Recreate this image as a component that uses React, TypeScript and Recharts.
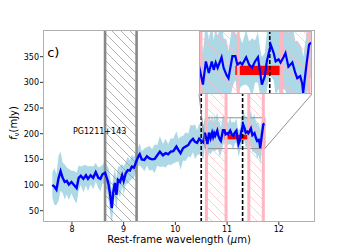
import {
  ComposedChart,
  Area,
  Line,
  XAxis,
  YAxis,
  ReferenceArea,
  ReferenceLine,
  ReferenceDot,
} from 'recharts';

// spectrum (rest-frame wavelength in micron, flux in mJy, 1-sigma error)
const WAVE = [
  7.62, 7.66, 7.7, 7.74, 7.78, 7.82, 7.86, 7.9, 7.94, 7.99, 8.04, 8.09, 8.13, 8.17, 8.22, 8.27,
  8.31, 8.36, 8.41, 8.46, 8.51, 8.55, 8.59, 8.64, 8.68, 8.71, 8.74, 8.77, 8.8, 8.83, 8.86, 8.89,
  8.93, 8.97, 9.0, 9.04, 9.08, 9.12, 9.16, 9.2, 9.24, 9.28, 9.31, 9.35, 9.4, 9.45, 9.5, 9.55,
  9.6, 9.65, 9.7, 9.76, 9.81, 9.86, 9.91, 9.96, 10.02, 10.06, 10.1, 10.15, 10.2, 10.25, 10.29,
  10.34, 10.38, 10.42, 10.46, 10.5, 10.54, 10.57, 10.6, 10.62, 10.65, 10.68, 10.71, 10.73, 10.75,
  10.77, 10.81, 10.83, 10.86, 10.88, 10.92, 10.95, 10.97, 11.0, 11.02, 11.06, 11.09, 11.12, 11.15,
  11.18, 11.2, 11.22, 11.25, 11.27, 11.29, 11.31, 11.34, 11.36, 11.39, 11.41, 11.44, 11.46, 11.49,
  11.53, 11.56, 11.58, 11.61, 11.63, 11.64, 11.67, 11.7, 11.72,
];
const FLUX = [
  100, 97, 91, 113, 127, 114, 106, 108, 101, 106, 100, 94, 114, 118, 112, 119,
  112, 119, 114, 125, 114, 112, 121, 124, 112, 100, 80, 55, 87, 104, 81, 110,
  106, 119, 108, 123, 129, 128, 136, 134, 145, 155, 160, 150, 149, 156, 152, 150,
  151, 158, 165, 158, 162, 160, 165, 166, 175, 168, 162, 172, 175, 178, 185,
  190, 184, 182, 190, 186, 183, 202, 189, 180, 202, 191, 202, 194, 201,
  196, 206, 196, 189, 186, 207, 207, 199, 201, 199, 206, 199, 196, 202,
  206, 193, 180, 188, 202, 210, 218, 210, 202, 204, 201, 206, 210, 197,
  201, 191, 186, 188, 181, 172, 196, 218, 220,
];
const ERR = [
  24, 36, 30, 44, 38, 30, 34, 26, 30, 22, 28, 30, 24, 18, 26, 20,
  24, 18, 22, 18, 20, 24, 18, 22, 26, 32, 36, 34, 30, 28, 32, 26,
  30, 22, 28, 22, 26, 20, 24, 20, 22, 18, 22, 16, 22, 18, 24, 20,
  28, 20, 30, 22, 28, 20, 26, 24, 30, 22, 32, 24, 28, 22, 32,
  26, 34, 24, 30, 26, 34, 28, 36, 30, 38, 32, 36, 28, 34,
  30, 36, 28, 34, 26, 30, 22, 28, 24, 20, 26, 22, 28, 20,
  24, 22, 26, 22, 28, 24, 30, 26, 32, 28, 34, 30, 36, 32,
  38, 30, 36, 30, 32, 34, 30, 36, 32,
];

const X_TICKS = [8, 9, 10, 11, 12];
const Y_TICKS = [50, 100, 150, 200, 250, 300, 350];
const X_DOMAIN = [7.44, 12.7];
const Y_DOMAIN = [28, 402];

const MASK = [8.64, 9.25];
const PINK_BANDS = [
  [10.6, 10.98],
  [11.42, 11.7],
];
const DASHED = [10.5, 11.3];
const MODEL_X = [10.95, 11.4];
const MODEL_Y = [189, 198];

const INSET_X = [10.58, 11.73];
const INSET_Y = [171, 231];
const INSET_X_TICKS = [10.6, 11.0, 11.4];
const INSET_Y_TICKS = [180, 190, 200, 210, 220, 230];

const rows = WAVE.map((x, i) => ({
  x,
  flux: FLUX[i],
  band: [FLUX[i] - ERR[i], FLUX[i] + ERR[i]],
}));

// plot box in pixels
const PLOT = { left: 43, top: 30, width: 272, height: 192 };
const INSET = { left: 199, top: 31, width: 113, height: 63 };

const pxToX = (px: number) =>
  X_DOMAIN[0] + ((px - PLOT.left) / PLOT.width) * (X_DOMAIN[1] - X_DOMAIN[0]);
const pyToY = (py: number) =>
  Y_DOMAIN[1] - ((py - PLOT.top) / PLOT.height) * (Y_DOMAIN[1] - Y_DOMAIN[0]);

const SPINE = '#b0b0b0';
const PINK = '#ffb6c1';

function Hatch({ id, color, size }: { id: string; color: string; size: number }) {
  const s = size;
  return (
    <pattern id={id} patternUnits="userSpaceOnUse" width={s} height={s}>
      <path
        d={`M0,0 L${s},${s} M-1,${s - 1} L1,${s + 1} M${s - 1},-1 L${s + 1},1`}
        stroke={color}
        strokeWidth="0.7"
      />
    </pattern>
  );
}

function bands(prefix: string, hatchPink: string) {
  return [
    ...PINK_BANDS.map(([a, b], i) => (
      <ReferenceArea
        key={`${prefix}pa${i}`}
        x1={a}
        x2={b}
        fill={`url(#${hatchPink})`}
        fillOpacity={1}
        stroke="none"
        ifOverflow="hidden"
      />
    )),
    ...PINK_BANDS.flat().map((v, i) => (
      <ReferenceLine key={`${prefix}pl${i}`} x={v} stroke={PINK} strokeWidth={3} ifOverflow="hidden" />
    )),
  ];
}

export default function App() {
  const insetBL = { x: pxToX(INSET.left), y: pyToY(INSET.top + INSET.height) };
  const insetBR = { x: pxToX(INSET.left + INSET.width), y: pyToY(INSET.top + INSET.height) };

  return (
    <div
      style={{
        position: 'absolute',
        left: 0,
        top: 0,
        width: 350,
        height: 250,
        background: '#fff',
        fontFamily: 'DejaVu Sans',
      }}
    >
      <ComposedChart width={350} height={250} data={rows} margin={{ top: 30, right: 35, bottom: 0, left: 0 }}>
        <defs>
          <Hatch id="grayHatch" color="#909090" size={9} />
          <Hatch id="pinkHatch" color={PINK} size={9} />
        </defs>
        <XAxis
          type="number"
          dataKey="x"
          domain={X_DOMAIN}
          ticks={X_TICKS}
          interval={0}
          allowDataOverflow
          height={28}
          axisLine={false}
          tickSize={3}
          tickMargin={1}
          tickLine={{ stroke: '#333' }}
          tick={{ fontSize: 8, fill: '#000' }}
          label={(p: any) => (
            <text
              x={p.viewBox.x + p.viewBox.width / 2}
              y={p.viewBox.y + 21}
              textAnchor="middle"
              fontSize={10}
              fill="#000"
            >
              Rest-frame wavelength (<tspan fontStyle="italic">μ</tspan>m)
            </text>
          )}
        />
        <YAxis
          type="number"
          domain={Y_DOMAIN}
          ticks={Y_TICKS}
          interval={0}
          allowDataOverflow
          width={43}
          axisLine={false}
          tickSize={3}
          tickMargin={1}
          tickLine={{ stroke: '#333' }}
          tick={{ fontSize: 8, fill: '#000' }}
          label={(p: any) => {
            const cx = 17;
            const cy = p.viewBox.y + p.viewBox.height / 2 - 3;
            return (
              <text x={cx} y={cy} transform={`rotate(-90 ${cx} ${cy})`} textAnchor="middle" fontSize={10} fill="#000">
                <tspan fontStyle="italic">f</tspan>
                <tspan fontSize={7} dy={2}>ν</tspan>
                <tspan dy={-2}>(mJy)</tspan>
              </text>
            );
          }}
        />
        <Area
          dataKey="band"
          type="linear"
          stroke="none"
          fill="#add8e6"
          fillOpacity={1}
          isAnimationActive={false}
        />
        <ReferenceArea x1={MASK[0]} x2={MASK[1]} fill="url(#grayHatch)" fillOpacity={1} stroke="none" />
        <ReferenceLine x={MASK[0]} stroke="#888" strokeWidth={2.6} />
        <ReferenceLine x={MASK[1]} stroke="#888" strokeWidth={2.6} />
        {bands('m', 'pinkHatch')}
        {DASHED.map((v) => (
          <ReferenceLine key={v} x={v} stroke="#000" strokeWidth={1.6} strokeDasharray="4 2" />
        ))}
        <ReferenceArea x1={MODEL_X[0]} x2={MODEL_X[1]} y1={MODEL_Y[0]} y2={MODEL_Y[1]} fill="#ff0000" fillOpacity={1} stroke="none" />
        <Line
          dataKey="flux"
          type="linear"
          stroke="#0000ff"
          strokeWidth={2.4}
          dot={false}
          isAnimationActive={false}
        />
        <ReferenceArea
          x1={INSET_X[0]}
          x2={INSET_X[1]}
          y1={INSET_Y[0]}
          y2={INSET_Y[1]}
          fill="none"
          stroke="#909090"
          strokeWidth={1}
        />
        <ReferenceLine
          segment={[{ x: INSET_X[0], y: INSET_Y[0] }, insetBL]}
          stroke="#909090"
          strokeWidth={1}
        />
        <ReferenceLine
          segment={[{ x: INSET_X[1], y: INSET_Y[0] }, insetBR]}
          stroke="#909090"
          strokeWidth={1}
        />
        <ReferenceDot
          x={7.52}
          y={349}
          r={0}
          shape={(p: any) => (
            <text x={p.cx} y={p.cy} fontSize={13} fill="#000">
              c)
            </text>
          )}
        />
        <ReferenceDot
          x={8.02}
          y={199}
          r={0}
          shape={(p: any) => (
            <text x={p.cx} y={p.cy} fontSize={8} fill="#000">
              PG1211+143
            </text>
          )}
        />
      </ComposedChart>
      <div
        style={{
          position: 'absolute',
          left: PLOT.left,
          top: PLOT.top,
          width: PLOT.width,
          height: PLOT.height,
          border: `1px solid ${SPINE}`,
          boxSizing: 'border-box',
          pointerEvents: 'none',
        }}
      />
      <div
        style={{
          position: 'absolute',
          left: INSET.left,
          top: INSET.top,
          width: INSET.width,
          height: INSET.height,
          background: '#fff',
        }}
      />
      <div style={{ position: 'absolute', left: INSET.left - 4, top: INSET.top }}>
        <ComposedChart
          width={INSET.width + 4}
          height={INSET.height + 4}
          data={rows}
          margin={{ top: 0, right: 0, bottom: 0, left: 0 }}
        >
          <defs>
            <Hatch id="pinkHatchInset" color={PINK} size={9} />
          </defs>
          <XAxis
            type="number"
            dataKey="x"
            domain={INSET_X}
            ticks={INSET_X_TICKS}
            interval={0}
            allowDataOverflow
            height={4}
            axisLine={false}
            tickSize={2}
            tickLine={{ stroke: '#333' }}
            tick={false}
          />
          <YAxis
            type="number"
            domain={INSET_Y}
            ticks={INSET_Y_TICKS}
            interval={0}
            allowDataOverflow
            width={4}
            axisLine={false}
            tickSize={2}
            tickLine={{ stroke: '#333' }}
            tick={false}
          />
          <Area
            dataKey="band"
            type="linear"
            stroke="none"
            fill="#add8e6"
            fillOpacity={1}
            isAnimationActive={false}
          />
          {bands('i', 'pinkHatchInset')}
          <ReferenceLine x={DASHED[1]} stroke="#000" strokeWidth={1.6} strokeDasharray="4 2" />
          <ReferenceArea x1={MODEL_X[0]} x2={MODEL_X[1]} y1={MODEL_Y[0]} y2={MODEL_Y[1]} fill="#ff0000" fillOpacity={1} stroke="none" />
          <Line
            dataKey="flux"
            type="linear"
            stroke="#0000ff"
            strokeWidth={2.2}
            dot={false}
            isAnimationActive={false}
          />
        </ComposedChart>
      </div>
      <div
        style={{
          position: 'absolute',
          left: INSET.left,
          top: INSET.top,
          width: INSET.width,
          height: INSET.height,
          border: `1px solid ${SPINE}`,
          boxSizing: 'border-box',
          pointerEvents: 'none',
        }}
      />
    </div>
  );
}
